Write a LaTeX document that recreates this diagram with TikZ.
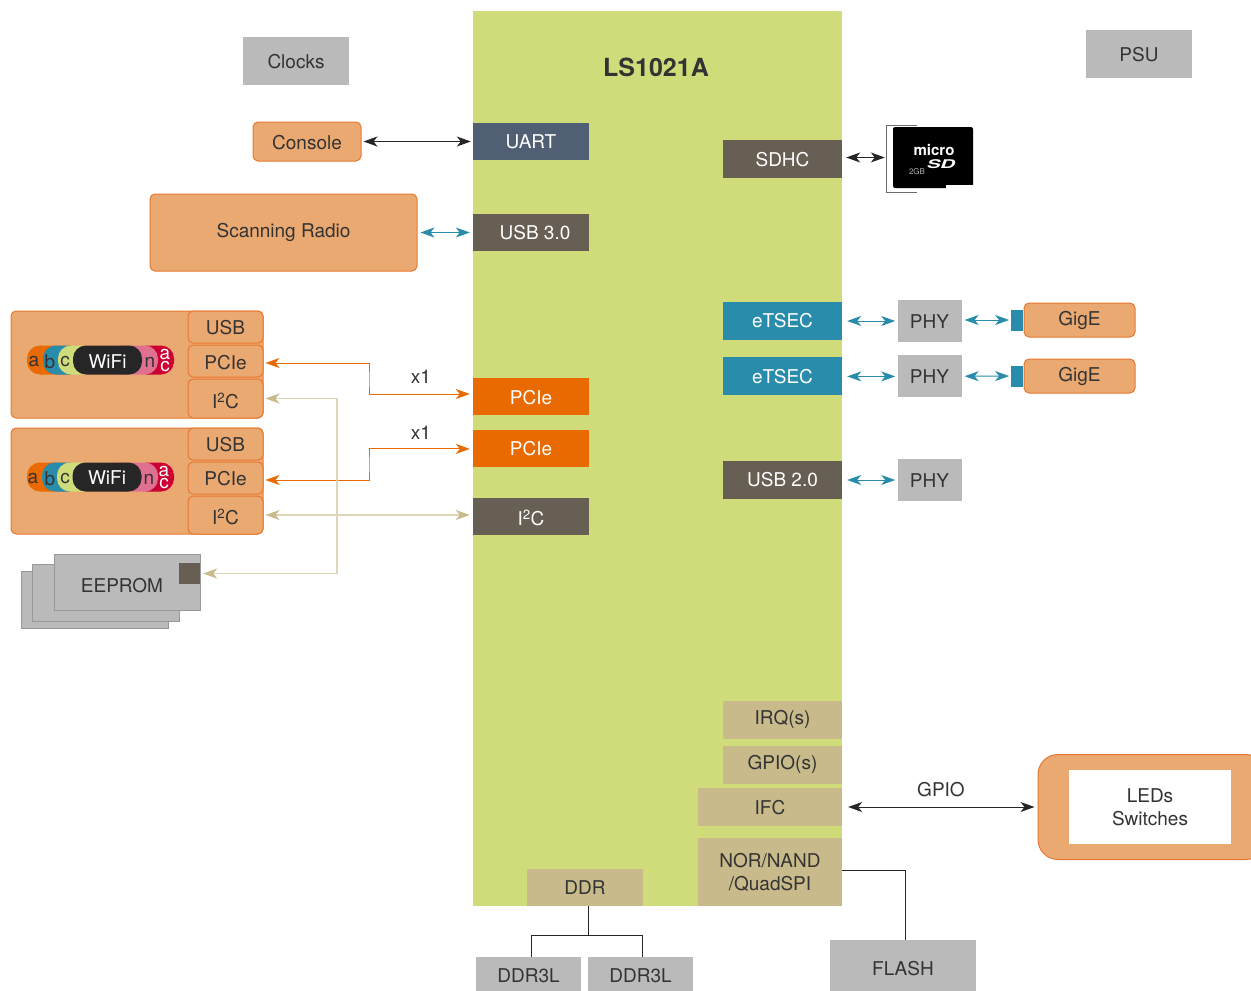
\documentclass[tikz,border=0pt]{standalone}
\usepackage{fontspec}
\setmainfont{TeX Gyre Heros}
\usepackage{tikz}
\usetikzlibrary{shapes,arrows.meta,positioning}
\definecolor{socgreen}{RGB}{208,220,122}
\definecolor{boardorange}{RGB}{235,169,114}
\definecolor{edgeorange}{RGB}{232,119,46}
\definecolor{hotorange}{RGB}{233,106,0}
\definecolor{slate}{RGB}{80,95,115}
\definecolor{umber}{RGB}{103,95,84}
\definecolor{teal}{RGB}{42,140,171}
\definecolor{khaki}{RGB}{200,186,138}
\definecolor{khakiline}{RGB}{221,215,184}
\definecolor{greyblock}{RGB}{186,186,186}
\definecolor{greyedge}{RGB}{153,153,153}
\definecolor{inktext}{RGB}{51,51,51}
\definecolor{wifired}{RGB}{204,0,51}
\definecolor{wifipink}{RGB}{224,112,144}
\tikzset{
	every node/.style={font=\fontsize{19}{23}\selectfont, text=inktext, inner sep=0pt, align=center, text height=16pt},
	darkblock/.style={rectangle, fill=#1, text=white, minimum width=116pt, minimum height=37pt},
	greyblk/.style={rectangle, fill=greyblock},
	khakiblk/.style={rectangle, fill=khaki, minimum height=38pt},
	orangebox/.style={rectangle, rounded corners=5pt, draw=edgeorange, line width=1pt, fill=boardorange},
	sheet/.style={rectangle, draw=greyedge, line width=1pt, fill=greyblock},
	pill/.style={rectangle, rounded corners=13pt, fill=#1, minimum height=29pt},
	link/.style={<->, line width=1pt, draw=#1, shorten <=3pt, shorten >=3pt},
	buslink/.style={{Stealth[length=14pt, width=10pt, inset=4pt, khaki]}-{Stealth[length=14pt, width=10pt, inset=4pt, khaki]}, line width=1.5pt, draw=khakiline, shorten <=2pt, shorten >=3pt},
	>={Stealth[length=14pt, width=10pt, inset=4pt]}
}
\begin{document}
\begin{tikzpicture}[x=1pt, y=-1pt]
	\useasboundingbox (0,0) rectangle (1251,991);
	% soc
	\node[rectangle, fill=socgreen, minimum width=369pt, minimum height=895pt] (soc) at (657.5,458.5) {};
	\node[font=\fontsize{25}{30}\selectfont\bfseries] (socname) at (656,69) {LS1021A};
	\node[greyblk, minimum width=106pt, minimum height=48pt] (clocks) at (296,61) {Clocks};
	\node[greyblk, minimum width=106pt, minimum height=48pt] (psu) at (1139,54) {PSU};
	% left side of soc
	\node[darkblock=slate, text height=14pt] (uart) at (531,141.5) {UART};
	\node[darkblock=umber, text height=14pt] (usbthree) at (531,232.5) {\hspace*{8pt}USB 3.0};
	\node[darkblock=hotorange] (pcieA) at (531,396.5) {PCIe};
	\node[darkblock=hotorange, text height=14pt] (pcieB) [below=15pt of pcieA] {PCIe};
	\node[darkblock=umber, text height=18pt] (i2cmain) at (531,516.5) {I\textsuperscript{2}C};
	\node[orangebox, minimum width=108pt, minimum height=39pt] (console) at (307,141.5) {Console};
	\node[orangebox, text height=14pt, minimum width=267pt, minimum height=77pt] (radio) at (283.5,232.5) {Scanning Radio};
	% right side of soc
	\node[darkblock=umber, minimum width=119pt, minimum height=38pt] (sdhc) at (782.5,159) {SDHC};
	\node[darkblock=teal, text height=14pt, minimum width=119pt, minimum height=38pt] (etsecA) at (782.5,321) {eTSEC};
	\node[darkblock=teal, text height=14pt, minimum width=119pt, minimum height=38pt] (etsecB) [below=17pt of etsecA] {eTSEC};
	\node[darkblock=umber, text height=14pt, minimum width=119pt, minimum height=38pt] (usbtwo) at (782.5,480) {USB 2.0};
	\node[greyblk, text height=14pt, minimum width=64pt, minimum height=42pt] (phyA) [right=56pt of etsecA] {PHY\hspace*{2pt}};
	\node[greyblk, text height=14pt, minimum width=64pt, minimum height=42pt] (phyB) [right=56pt of etsecB] {PHY\hspace*{2pt}};
	\node[greyblk, text height=14pt, minimum width=64pt, minimum height=42pt] (phyC) [right=56pt of usbtwo] {PHY\hspace*{2pt}};
	\node[orangebox, minimum width=111pt, minimum height=34pt] (gigeA) at (1079.5,320) {GigE};
	\node[orangebox, minimum width=111pt, minimum height=34pt] (gigeB) at (1079.5,376) {GigE};
	\node[rectangle, fill=teal, minimum width=12pt, minimum height=21pt] (portA) [left=0pt of gigeA] {};
	\node[rectangle, fill=teal, minimum width=12pt, minimum height=21pt] (portB) [left=0pt of gigeB] {};
	% micro sd
	\node[rectangle, fill=black, rounded corners=2pt, minimum width=80pt, minimum height=61pt] (sdcard) at (933,157.5) {};
	\fill[white] (946,185) rectangle (975,190);
	\draw[greyedge!70!black, line width=1pt] (917,125) -- (886,125) -- (886,192) -- (917,192);
	\node[text=white, text height=11pt, font=\fontsize{15}{15}\selectfont\bfseries] (sdmicro) at (934,150) {micro};
	\node[text=white, text height=10pt, font=\fontsize{12}{12}\selectfont\bfseries\itshape] (sdlogo) at (941,164) {\scalebox{1.7}[1]{SD}};
	\node[text=white!70!black, text height=6pt, font=\fontsize{8}{8}\selectfont] (sdsize) at (917,172) {2GB};
	% wifi cards
	\node[orangebox, minimum width=252pt, minimum height=107pt] (wifiA) at (137,364.5) {};
	\node[orangebox, minimum width=75pt, minimum height=32pt] (usbA) at (225.5,327) {USB};
	\node[orangebox, text height=18pt, minimum width=75pt, minimum height=32pt] (pcieCardA) at (225.5,361) {PCIe};
	\node[orangebox, text height=20pt, minimum width=75pt, minimum height=39pt] (i2cA) at (225.5,398.5) {I\textsuperscript{2}C};
	\node[pill=hotorange, minimum width=50pt] (pillaA) at (52,360) {};
	\node[pill=teal, minimum width=40pt] (pillbA) at (63,360) {};
	\node[pill=socgreen, minimum width=40pt] (pillcA) at (78,360) {};
	\node[pill=wifired, minimum width=40pt] (pillacA) at (154,360) {};
	\node[pill=wifipink, minimum width=50pt] (pillnA) at (133,360) {};
	\node[pill=black!85, text=white, minimum width=69pt] (pillwifiA) at (107.5,360) {WiFi};
	\node (aA) at (34,358.5) {a};
	\node (bA) at (50,361) {b};
	\node (cA) at (65,359) {c};
	\node (nA) at (150,359) {n};
	\node[text=white, text height={}, font=\fontsize{19}{12}\selectfont] (acA) at (165,360.5) {a\\c};
	\node[orangebox, minimum width=252pt, minimum height=106pt] (wifiB) at (137,481) {};
	\node[orangebox, minimum width=75pt, minimum height=32pt] (usbB) at (225.5,444) {USB};
	\node[orangebox, minimum width=75pt, minimum height=32pt] (pcieCardB) at (225.5,478) {PCIe};
	\node[orangebox, text height=20pt, minimum width=75pt, minimum height=38pt] (i2cB) at (225.5,515) {I\textsuperscript{2}C};
	\node[pill=hotorange, minimum width=50pt] (pillaB) at (52,477) {};
	\node[pill=teal, minimum width=40pt] (pillbB) at (62,477) {};
	\node[pill=socgreen, minimum width=40pt] (pillcB) at (77,477) {};
	\node[pill=wifired, minimum width=40pt] (pillacB) at (154,477) {};
	\node[pill=wifipink, minimum width=50pt] (pillnB) at (133,477) {};
	\node[pill=black!85, text=white, text height=14pt, minimum width=69pt] (pillwifiB) at (107,477) {WiFi};
	\node (aB) at (33,475.5) {a};
	\node (bB) at (50,478) {b};
	\node (cB) at (65,476) {c};
	\node (nB) at (149,476) {n};
	\node[text=white, text height={}, font=\fontsize{19}{12}\selectfont] (acB) at (164,477.5) {a\\c};
	% eeprom
	\node[sheet, minimum width=147pt, minimum height=57pt] (sheetC) at (94.5,599.5) {};
	\node[sheet, minimum width=147pt, minimum height=57pt] (sheetB) at (105.5,592.5) {};
	\node[sheet, minimum width=146pt, minimum height=56pt] (sheetA) at (127,582) {};
	\node (eeprom) at (122,585) {EEPROM};
	\node[rectangle, fill=umber, minimum width=21pt, minimum height=21pt] (eepromport) at (189.5,573.5) {};
	% bottom of soc
	\node[khakiblk, text height=14pt, minimum width=119pt] (irq) at (782.5,720) {IRQ(s)};
	\node[khakiblk, text height=14pt, minimum width=119pt] (gpio) at (782.5,765) {GPIO(s)};
	\node[khakiblk, minimum width=144pt] (ifc) at (770,807) {IFC};
	\node[khakiblk, text height={}, minimum width=144pt, minimum height=68pt] (nor) at (770,872) {NOR/NAND\\/QuadSPI};
	\node[khakiblk, text height=14pt, minimum width=116pt, minimum height=37pt] (ddr) at (585,887.5) {DDR};
	\node[greyblk, text height=18pt, minimum width=105pt, minimum height=34pt] (ddrA) at (528.5,974) {DDR3L};
	\node[greyblk, text height=18pt, minimum width=105pt, minimum height=34pt] (ddrB) at (640.5,974) {DDR3L};
	\node[greyblk, text height=21pt, minimum width=146pt, minimum height=51pt] (flash) at (903,965.5) {FLASH};
	\node[orangebox, rounded corners=20pt, minimum width=228pt, minimum height=105pt] (panel) at (1152,807) {};
	\node[rectangle, fill=white, text height={}, minimum width=162pt, minimum height=74pt] (leds) at (1150,807) {LEDs\\Switches};
	% labels
	\node (x1A) at (421,375) {x1};
	\node (x1B) at (421,431) {x1};
	\node (gpiolabel) at (941,789) {GPIO};
	\coordinate (i2cbus) at (337,480);
	\coordinate (ddrsplit) at (588,935);
	\coordinate (pciebendA) at (369,380);
	\coordinate (pciebendB) at (369,465);
	% connectors
	\draw[link=black!85, shorten <=2pt, shorten >=2pt] (console) -- (uart);
	\draw[link=teal] (radio) -- (usbthree);
	\draw[link=black!85, shorten <=4pt, shorten >=8pt] ([yshift=1.5pt]sdhc.east) -- (sdcard.west);
	\draw[link=teal, shorten <=5pt] (etsecA) -- (phyA);
	\draw[link=teal, shorten <=5pt] (etsecB) -- (phyB);
	\draw[link=teal, shorten <=5pt] (usbtwo) -- (phyC);
	\draw[link=teal, shorten <=2pt, shorten >=2pt] ([yshift=1pt]phyA.east) -- (portA.west);
	\draw[link=teal, shorten <=2pt, shorten >=2pt] (phyB) -- (portB);
	\draw[link=hotorange, shorten <=2pt] ([yshift=-2pt]pcieCardA.east) -| (pciebendA) |- ([yshift=2.5pt]pcieA.west);
	\draw[link=hotorange, shorten <=2pt] ([yshift=-2pt]pcieCardB.east) -| (pciebendB) |- (pcieB.west);
	\draw[buslink] (i2cA.east) -| (i2cbus) |- (eepromport.east);
	\draw[buslink] (i2cB.east) -- ([yshift=1.5pt]i2cmain.west);
	\draw[link=black!85, shorten <=6pt] (ifc) -- (panel);
	\draw[line width=1pt, black!85] ([yshift=2pt]nor.east) -| ([xshift=2pt]flash.north);
	\draw[line width=1pt, black!85] ([xshift=3pt]ddr.south) -- (ddrsplit);
	\draw[line width=1pt, black!85] (ddrsplit) -| ([xshift=3pt]ddrA.north);
	\draw[line width=1pt, black!85] (ddrsplit) -| ([xshift=1.5pt]ddrB.north);
\end{tikzpicture}
\end{document}
